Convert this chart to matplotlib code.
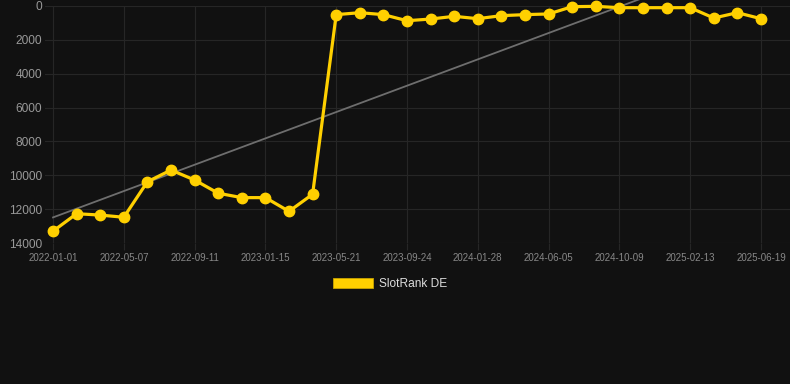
import matplotlib.pyplot as plt
import numpy as np
from matplotlib.patches import Patch

plt.rcParams['font.family'] = ['Liberation Sans', 'DejaVu Sans']

# rank values (lower is better), one point per sample
rank = [13300, 12270, 12350, 12480, 10380, 9690, 10280, 11060, 11320, 11320,
        12130, 11120, 510, 395, 510, 870, 770, 610, 750, 570,
        510, 470, 40, 20, 100, 100, 100, 100, 710, 395, 750]
tick_labels = ['2022-01-01', '2022-05-07', '2022-09-11', '2023-01-15',
               '2023-05-21', '2023-09-24', '2024-01-28', '2024-06-05',
               '2024-10-09', '2025-02-13', '2025-06-19']
series_name = 'SlotRank DE'

bg = '#111111'
yellow = '#ffd000'
grid_c = '#262626'

x = np.arange(len(rank))
fig = plt.figure(figsize=(7.9, 3.84), dpi=100, facecolor=bg)
ax = fig.add_axes([45 / 790, 141 / 384, 745 / 790, 237 / 384])
ax.set_facecolor(bg)

# trend line (least squares)
k, b = np.polyfit(x, rank, 1)
ax.plot(x, k * x + b, color='#6e6e6e', lw=1.3, clip_on=False, zorder=2)

ax.plot(x, rank, color=yellow, lw=2.3, marker='o', ms=7.5,
        clip_on=False, zorder=3)

ax.set_xlim(-0.34, 31.23)
ax.set_ylim(14000, 0)
ax.set_yticks(np.arange(0, 14001, 2000))
ax.set_xticks(x[::3])
ax.set_xticklabels(tick_labels)

ax.grid(True, color=grid_c, lw=0.8)
ax.set_axisbelow(True)
for s in ax.spines.values():
    s.set_visible(False)
ax.tick_params(axis='x', length=5, color=grid_c, width=0.8, pad=2,
               labelsize=7, labelcolor='#888888')
ax.tick_params(axis='y', length=0, pad=2, labelsize=8.6,
               labelcolor='#999999')

leg = fig.legend(handles=[Patch(facecolor=yellow, edgecolor='#c9a400', lw=0.6)],
                 labels=[series_name], loc='center',
                 bbox_to_anchor=(390 / 790, 100 / 384), frameon=False,
                 fontsize=8.6, handlelength=3.3, handleheight=0.92,
                 handletextpad=0.5, labelcolor='#dddddd')

fig.savefig('out.png', dpi=100, facecolor=bg)
